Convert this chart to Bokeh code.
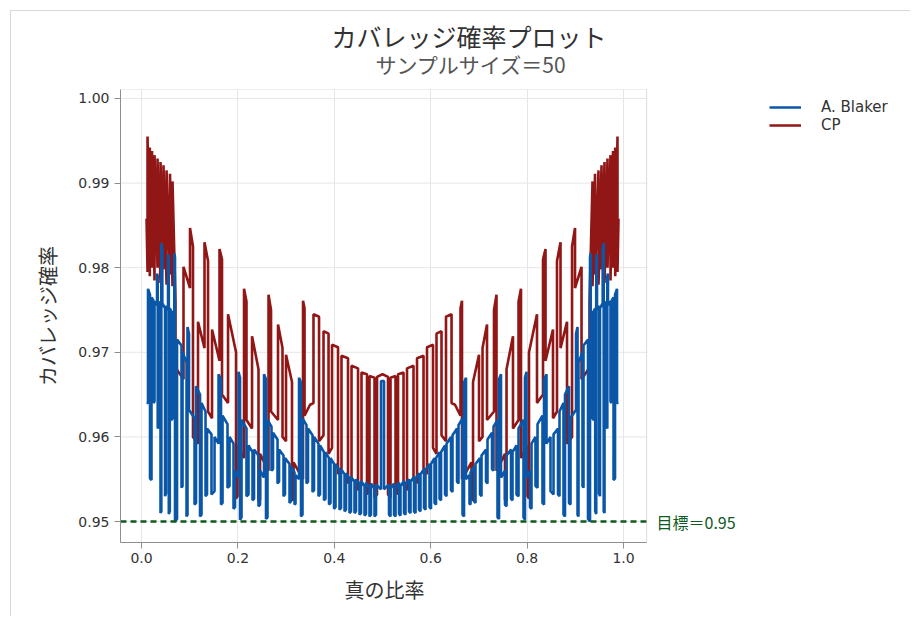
from bokeh.plotting import figure
from bokeh.models import (Range1d, Label, Legend, LegendItem, FixedTicker,
                          NumeralTickFormatter, Title, BoxAnnotation)
from bokeh.embed import file_html
from bokeh.resources import INLINE

JP = "Noto Sans CJK JP"
LAT = "DejaVu Sans"

# ---- data: left half (p <= 0.5); the curves are symmetric about p = 0.5
# each entry: jump location, value just before the jump, value just after it
cp_p = [0.0104, 0.0125, 0.0172, 0.0218, 0.0270, 0.0332, 0.0394, 0.0456, 0.0519, 0.0591,
        0.0643, 0.0705, 0.0871, 0.1006, 0.1068,
        0.1172, 0.1307, 0.1380, 0.1463, 0.1618, 0.1670, 0.1795, 0.1961, 0.1992, 0.2127,
        0.2178, 0.2293, 0.2427, 0.2459, 0.2635, 0.2687, 0.2832, 0.2925, 0.2998, 0.3122,
        0.3154, 0.3351, 0.3382, 0.3496, 0.3568, 0.3683, 0.3776, 0.3880, 0.3952, 0.4077,
        0.4149, 0.4284, 0.4357, 0.4492, 0.4564, 0.4678, 0.4730, 0.4834, 0.4886, 0.5000]
cp_before = [0.9858, 0.9795, 0.9790, 0.9800, 0.9785, 0.9800, 0.9782, 0.9798, 0.9780, 0.9792,
             0.9778, 0.9760, 0.9668, 0.9776, 0.9825,
             0.9592, 0.9705, 0.9808, 0.9622, 0.9690, 0.9810, 0.9640, 0.9700, 0.9530, 0.9575,
             0.9760, 0.9610, 0.9680, 0.9526, 0.9560, 0.9750, 0.9620, 0.9705, 0.9595, 0.9665,
             0.9527, 0.9550, 0.9752, 0.9638, 0.9640, 0.9742, 0.9602, 0.9722, 0.9587, 0.9706,
             0.9563, 0.9693, 0.9552, 0.9681, 0.9543, 0.9674, 0.9537, 0.9670, 0.9532, 0.9674]
cp_after = [0.9858, 0.9955, 0.9942, 0.9938, 0.9933, 0.9929, 0.9925, 0.9921, 0.9915, 0.9911,
            0.9902, 0.9682, 0.9801, 0.9847, 0.9600,
            0.9736, 0.9830, 0.9630, 0.9727, 0.9822, 0.9650, 0.9745, 0.9527, 0.9590, 0.9775,
            0.9620, 0.9719, 0.9524, 0.9580, 0.9768, 0.9630, 0.9733, 0.9600, 0.9697, 0.9525,
            0.9570, 0.9761, 0.9625, 0.9638, 0.9745, 0.9595, 0.9725, 0.9580, 0.9709, 0.9556,
            0.9696, 0.9545, 0.9684, 0.9537, 0.9676, 0.9532, 0.9672, 0.9528, 0.9671, 0.9674]

bl_p = [0.0104, 0.0135, 0.0176, 0.0207, 0.0249, 0.0270, 0.0322, 0.0336, 0.0353, 0.0394,
        0.0411, 0.0432, 0.0488, 0.0508, 0.0550, 0.0566, 0.0587, 0.0622, 0.0643, 0.0680,
        0.0695, 0.0737, 0.0830, 0.0851,
        0.0934, 0.0954, 0.0985, 0.1100, 0.1131, 0.1214, 0.1245, 0.1328, 0.1359, 0.1452,
        0.1515, 0.1598, 0.1649, 0.1681, 0.1784, 0.1826, 0.1909, 0.1940, 0.2012, 0.2044,
        0.2075, 0.2178, 0.2220, 0.2303, 0.2334, 0.2427, 0.2459, 0.2542, 0.2583, 0.2614,
        0.2697, 0.2728, 0.2822, 0.2853, 0.2946, 0.2977, 0.3071, 0.3102, 0.3174, 0.3195,
        0.3268, 0.3309, 0.3340, 0.3423, 0.3454, 0.3548, 0.3579, 0.3672, 0.3703, 0.3786,
        0.3817, 0.3890, 0.3921, 0.3994, 0.4025, 0.4108, 0.4139, 0.4212, 0.4243, 0.4315,
        0.4346, 0.4419, 0.4450, 0.4523, 0.4554, 0.4627, 0.4658, 0.4730, 0.4761, 0.4834,
        0.4865, 0.4969, 0.5000]
bl_before = [0.9640, 0.9640, 0.9768, 0.9549, 0.9761, 0.9642, 0.9756, 0.9790, 0.9612, 0.9755,
             0.9512, 0.9822, 0.9752, 0.9533, 0.9750, 0.9810, 0.9512, 0.9748, 0.9622, 0.9745,
             0.9812, 0.9503, 0.9708, 0.9542,
             0.9688, 0.9508, 0.9722, 0.9622, 0.9522, 0.9650, 0.9508, 0.9630, 0.9532, 0.9603,
             0.9536, 0.9592, 0.9668, 0.9522, 0.9615, 0.9542, 0.9592, 0.9517, 0.9552, 0.9670,
             0.9505, 0.9610, 0.9532, 0.9582, 0.9527, 0.9578, 0.9520, 0.9552, 0.9668, 0.9505,
             0.9612, 0.9562, 0.9597, 0.9547, 0.9578, 0.9532, 0.9568, 0.9524, 0.9558, 0.9521,
             0.9550, 0.9664, 0.9508, 0.9614, 0.9547, 0.9602, 0.9537, 0.9592, 0.9532, 0.9582,
             0.9527, 0.9575, 0.9522, 0.9568, 0.9517, 0.9561, 0.9516, 0.9556, 0.9514, 0.9551,
             0.9512, 0.9547, 0.9512, 0.9544, 0.9510, 0.9542, 0.9509, 0.9540, 0.9508, 0.9539,
             0.9508, 0.9538, 0.9666]
bl_after = [0.9640, 0.9775, 0.9551, 0.9765, 0.9640, 0.9760, 0.9793, 0.9610, 0.9760, 0.9510,
            0.9829, 0.9758, 0.9530, 0.9755, 0.9816, 0.9509, 0.9752, 0.9620, 0.9748, 0.9817,
            0.9500, 0.9715, 0.9540, 0.9700,
            0.9506, 0.9730, 0.9632, 0.9520, 0.9660, 0.9506, 0.9640, 0.9530, 0.9610, 0.9532,
            0.9600, 0.9674, 0.9520, 0.9625, 0.9540, 0.9600, 0.9515, 0.9560, 0.9677, 0.9502,
            0.9620, 0.9530, 0.9590, 0.9525, 0.9585, 0.9518, 0.9560, 0.9674, 0.9503, 0.9620,
            0.9560, 0.9605, 0.9545, 0.9585, 0.9530, 0.9575, 0.9522, 0.9565, 0.9520, 0.9555,
            0.9670, 0.9506, 0.9622, 0.9545, 0.9610, 0.9535, 0.9600, 0.9530, 0.9590, 0.9525,
            0.9582, 0.9520, 0.9575, 0.9515, 0.9568, 0.9514, 0.9562, 0.9512, 0.9557, 0.9510,
            0.9553, 0.9510, 0.9550, 0.9508, 0.9548, 0.9507, 0.9546, 0.9506, 0.9545, 0.9506,
            0.9544, 0.9666, 0.9666]

target = 0.95
x_ticks = [0.0, 0.2, 0.4, 0.6, 0.8, 1.0]
y_ticks = [0.95, 0.96, 0.97, 0.98, 0.99, 1.00]

title_text = "カバレッジ確率プロット"
subtitle_text = "サンプルサイズ＝50"
x_label = "真の比率"
y_label = "カバレッジ確率"
target_text = "目標＝0.95"
names = ["A. Blaker", "CP"]

# axis limits of the drawn plot box
X_MIN, X_MAX = -0.0436, 1.048
Y_MIN, Y_MAX = 0.94752, 1.00106


def build_path(ps, before, after):
    assert len(ps) == len(before) == len(after)
    xs, ys = [], []
    for x, b, a in zip(ps, before, after):
        xs += [x, x]
        ys += [b, a]
    xs_full = xs + [1 - x for x in reversed(xs)]
    ys_full = ys + list(reversed(ys))
    return xs_full, ys_full


cp_x, cp_y = build_path(cp_p, cp_before, cp_after)
bl_x, bl_y = build_path(bl_p, bl_before, bl_after)

# the frame is widened to the right so the legend and the target label can sit inside it;
# the visible box is drawn with a BoxAnnotation limited to the axis limits
p = figure(width=900, height=606,
           x_range=Range1d(X_MIN, 1.5871), y_range=Range1d(Y_MIN, Y_MAX),
           output_backend="svg", toolbar_location=None,
           min_border_left=109, min_border_right=5, min_border_top=78, min_border_bottom=75)
p.styles = {"margin-left": "10px", "margin-top": "10px",
            "border-left": "1px solid #d9d9d9", "border-top": "1px solid #d9d9d9"}
p.outline_line_color = None
p.background_fill_color = "white"
p.border_fill_color = "white"

BLUE = "#0a57a8"
RED = "#911616"
GREEN = "#0f5a1e"
GRID = "#e6e6e6"
FRAME = "#8f8f8f"

# horizontal grid lines limited to the box
p.ygrid.visible = False
p.segment(x0=[X_MIN] * len(y_ticks), y0=y_ticks, x1=[X_MAX] * len(y_ticks), y1=y_ticks,
          line_color=GRID, line_width=1)
p.xgrid.grid_line_color = GRID

r_cp = p.line(cp_x, cp_y, line_color=RED, line_width=2.6)
r_bl = p.line(bl_x, bl_y, line_color=BLUE, line_width=2.6)

p.line([X_MIN, X_MAX], [target, target], line_color=GREEN, line_width=2.5, line_dash="6 4")

p.add_layout(BoxAnnotation(left=X_MIN, right=X_MAX, fill_alpha=0,
                           line_color=FRAME, line_width=1))

# axes
p.xaxis.ticker = FixedTicker(ticks=x_ticks)
p.yaxis.ticker = FixedTicker(ticks=y_ticks)
p.xaxis.formatter = NumeralTickFormatter(format="0.0")
p.yaxis.formatter = NumeralTickFormatter(format="0.00")
p.xaxis.bounds = (X_MIN, X_MAX)
for ax in (p.xaxis[0], p.yaxis[0]):
    ax.axis_line_color = FRAME
    ax.major_tick_line_color = FRAME
    ax.major_tick_out = 6
    ax.major_tick_in = 0
    ax.minor_tick_line_color = None
    ax.major_label_text_font = LAT
    ax.major_label_text_font_size = "14px"
    ax.major_label_text_color = "#333333"
    ax.axis_label_text_font = JP
    ax.axis_label_text_font_size = "20px"
    ax.axis_label_text_font_style = "normal"
    ax.axis_label_text_color = "#333333"
p.yaxis.axis_label = y_label
p.xaxis.major_label_standoff = 4
p.yaxis.major_label_standoff = 5
p.yaxis.axis_label_standoff = 13

# x-axis title placed under the box (the frame is wider than the box)
p.add_layout(Title(text=x_label, align="left", offset=224, text_font=JP,
                   text_font_size="20px", text_font_style="normal",
                   text_color="#333333", standoff=14), "below")

# titles: subtitle first (closest to the frame), then the main title above it
p.add_layout(Title(text=subtitle_text, align="left", offset=255, text_font=JP,
                   text_font_size="21px", text_font_style="normal",
                   text_color="#555555", standoff=22), "above")
p.add_layout(Title(text=title_text, align="left", offset=211, text_font=JP,
                   text_font_size="25px", text_font_style="normal",
                   text_color="#333333", standoff=-36), "above")

# target label (inside the widened frame, right of the box)
p.add_layout(Label(x=536, y=target, x_units="screen", y_units="data", text=target_text,
                   text_align="left", text_baseline="middle", text_font=JP,
                   text_font_size="16px", text_color=GREEN))

legend = Legend(items=[LegendItem(label=names[0], renderers=[r_bl]),
                       LegendItem(label=names[1], renderers=[r_cp])],
                location=(649, 408))
legend.border_line_color = None
legend.background_fill_alpha = 0
legend.padding = 0
legend.margin = 0
legend.spacing = 0
legend.glyph_width = 32
legend.glyph_height = 18
legend.label_height = 18
legend.label_standoff = 20
legend.label_text_font = LAT
legend.label_text_font_size = "15px"
legend.label_text_color = "#333333"
p.add_layout(legend)

open("out.html", "w").write(file_html(p, INLINE))
